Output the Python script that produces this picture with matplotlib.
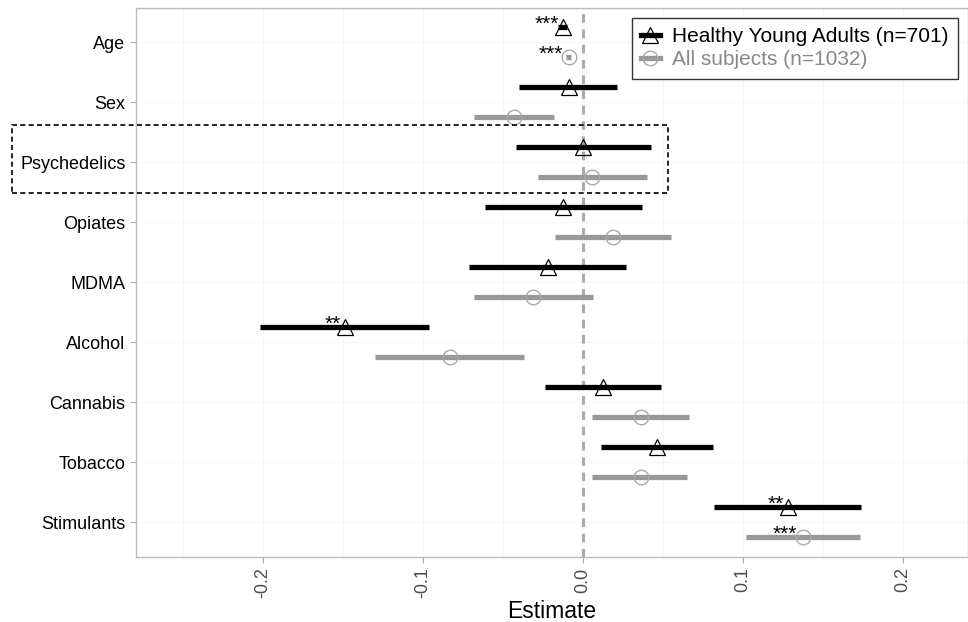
import numpy as np
import matplotlib.pyplot as plt
from matplotlib.lines import Line2D
from matplotlib.patches import Rectangle

plt.rcParams['font.family'] = ['Liberation Sans', 'DejaVu Sans']

# Data
categories = ['Age', 'Sex', 'Psychedelics', 'Opiates', 'MDMA',
              'Alcohol', 'Cannabis', 'Tobacco', 'Stimulants']

hya_est = [-0.0125, -0.009, 0.0, -0.0125, -0.022, -0.149, 0.0125, 0.046, 0.128]
hya_lo = [-0.0156, -0.040, -0.042, -0.061, -0.071, -0.202, -0.024, 0.011, 0.082]
hya_hi = [-0.0100, 0.021, 0.0425, 0.037, 0.027, -0.096, 0.049, 0.081, 0.174]
hya_sig = ['***', '', '', '', '', '**', '', '', '**']

all_est = [-0.009, -0.043, 0.0056, 0.019, -0.031, -0.083, 0.036, 0.036, 0.1375]
all_lo = [-0.0106, -0.068, -0.028, -0.0175, -0.068, -0.130, 0.0056, 0.0056, 0.102]
all_hi = [-0.0075, -0.018, 0.040, 0.055, 0.006, -0.037, 0.066, 0.065, 0.173]
all_sig = ['***', '', '', '', '', '', '', '', '***']

x_ticks = [-0.2, -0.1, 0.0, 0.1, 0.2]

black = '#000000'
grey = '#999999'
grey_marker = '#aaaaaa'

fig = plt.figure(figsize=(9.68, 6.22), dpi=100)
ax = fig.add_axes([136 / 968, 1 - 557 / 622, 832 / 968, 549 / 622])
ax.set_axisbelow(True)

y = np.arange(len(categories))
dodge = 0.25

ax.axvline(0, color='#ababab', lw=2.2, ls=(0, (2.8, 2.2)), zorder=2)

# Healthy young adults (black)
ax.hlines(y - dodge, hya_lo, hya_hi, color=black, lw=3.8, zorder=3,
          capstyle='butt')
ax.plot(hya_est, y - dodge, ls='none', marker='^', ms=12, mfc='none',
        mec=black, mew=0.9, zorder=4)

# All subjects (grey)
ax.hlines(y + dodge, all_lo, all_hi, color=grey, lw=3.8, zorder=3,
          capstyle='butt')
ax.plot(all_est, y + dodge, ls='none', marker='o', ms=10.5, mfc='none',
        mec=grey_marker, mew=1.0, zorder=4)

for i in range(len(categories)):
    if hya_sig[i]:
        ax.annotate(hya_sig[i], (hya_est[i], y[i] - dodge), xytext=(-3, 2),
                    textcoords='offset points', ha='right', va='center',
                    fontsize=15, color=black)
    if all_sig[i]:
        ax.annotate(all_sig[i], (all_est[i], y[i] + dodge), xytext=(-4, 2),
                    textcoords='offset points', ha='right', va='center',
                    fontsize=15, color=black)

ax.set_yticks(y)
ax.set_yticklabels(categories, fontsize=13, color=black)
ax.set_xticks(x_ticks)
ax.set_xticklabels([f'{v:.1f}' for v in x_ticks], rotation=90,
                   fontsize=13, color='#4d4d4d')
ax.set_xticks([-0.25, -0.15, -0.05, 0.05, 0.15], minor=True)
ax.tick_params(axis='both', which='major', length=4, color='#aaaaaa', width=0.8)
ax.tick_params(axis='x', which='minor', length=0)
ax.set_xlabel('Estimate', fontsize=16.5, labelpad=1)

ax.set_xlim(-0.2794, 0.2406)
ax.set_ylim(len(categories) - 1 + 0.58, -0.57)

ax.grid(True, which='both', axis='x', color='#f7f7f7', lw=0.8)
ax.grid(True, which='major', axis='y', color='#f7f7f7', lw=0.8)
for s in ax.spines.values():
    s.set_color('#bbbbbb')
    s.set_linewidth(1.0)

handles = [
    Line2D([0], [0], color=black, lw=3.8, marker='^', ms=12, mfc='none',
           mec=black, mew=0.9),
    Line2D([0], [0], color=grey, lw=3.8, marker='o', ms=10.5, mfc='none',
           mec=grey_marker, mew=1.0),
]
leg = ax.legend(handles, ['Healthy Young Adults (n=701)', 'All subjects (n=1032)'],
                loc='upper right', bbox_to_anchor=(0.988, 0.982),
                borderaxespad=0, fontsize=15, handlelength=0.9,
                handletextpad=0.6, labelspacing=0.2, borderpad=0.45,
                fancybox=False, edgecolor='#333333', framealpha=1)
leg.get_frame().set_linewidth(1.0)
leg.get_texts()[1].set_color('#888888')

# dashed box around Psychedelics row
fig.patches.append(Rectangle((12 / 968, 1 - 193 / 622), 656 / 968, 68 / 622,
                             transform=fig.transFigure, fill=False,
                             ec=black, lw=1.2, ls=(0, (3, 2))))

fig.savefig('out.png', dpi=100)
